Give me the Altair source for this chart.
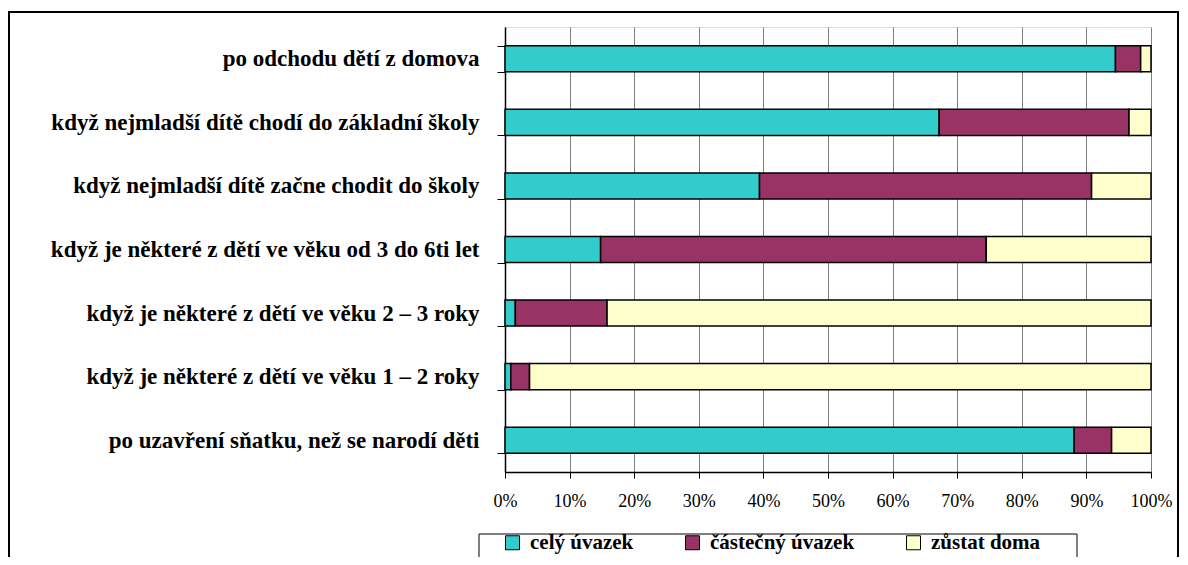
import altair as alt
import pandas as pd

categories = [
    "po odchodu dětí z domova",
    "když nejmladší dítě chodí do základní školy",
    "když nejmladší dítě začne chodit do školy",
    "když je některé z dětí ve věku od 3 do 6ti let",
    "když je některé z dětí ve věku 2 – 3 roky",
    "když je některé z dětí ve věku 1 – 2 roky",
    "po uzavření sňatku, než se narodí děti",
]
series = ["celý úvazek", "částečný úvazek", "zůstat doma"]
cely = [94.5, 67.2, 39.4, 14.8, 1.6, 0.9, 88.1]
castecny = [3.9, 29.4, 51.4, 59.7, 14.2, 2.9, 5.8]
zustat = [1.6, 3.4, 9.2, 25.5, 84.2, 96.2, 6.1]
colors = ["#33CCCC", "#993366", "#FFFFCC"]
x_ticks = [0, 0.1, 0.2, 0.3, 0.4, 0.5, 0.6, 0.7, 0.8, 0.9, 1.0]

rows = []
for si, vals in enumerate([cely, castecny, zustat]):
    for c, v in zip(categories, vals):
        rows.append({"kat": c, "serie": series[si], "idx": si, "hodnota": v})
df = pd.DataFrame(rows)

SERIF = "Liberation Serif"

bars = alt.Chart(df).mark_bar(stroke="black", strokeWidth=1.5).encode(
    x=alt.X(
        "hodnota:Q",
        stack="normalize",
        scale=alt.Scale(domain=[0, 1]),
        axis=alt.Axis(
            format="%",
            values=x_ticks,
            grid=True,
            gridColor="#808080",
            gridWidth=1,
            domainColor="black",
            domainWidth=1.5,
            tickColor="black",
            tickSize=6,
            labelFont=SERIF,
            labelFontSize=18,
            labelColor="black",
            labelPadding=14,
            labelFlush=False,
            labelOverlap=False,
            title=None,
        ),
    ),
    y=alt.Y(
        "kat:N",
        sort=categories,
        scale=alt.Scale(paddingInner=0.59, paddingOuter=0.295),
        axis=alt.Axis(
            tickBand="extent",
            tickSize=8,
            tickColor="black",
            domainColor="black",
            domainWidth=1.5,
            labelFont=SERIF,
            labelFontWeight="bold",
            labelFontSize=23,
            labelColor="black",
            labelPadding=18,
            labelLimit=700,
            grid=False,
            title=None,
        ),
    ),
    color=alt.Color(
        "serie:N",
        scale=alt.Scale(domain=series, range=colors),
        legend=alt.Legend(
            orient="none",
            legendX=-3,
            legendY=505,
            direction="horizontal",
            symbolType="square",
            symbolSize=196,
            symbolStrokeColor="black",
            symbolStrokeWidth=1,
            symbolOpacity=1,
            labelFont=SERIF,
            labelFontWeight="bold",
            labelFontSize=21,
            labelColor="black",
            labelOffset=7,
            columnPadding=48,
            padding=0,
            title=None,
        ),
    ),
    order=alt.Order("idx:Q"),
)

deco = alt.Data(values=[{}])
outer = alt.Chart(deco).mark_rect(fill=None, stroke="black", strokeWidth=2).encode(
    x=alt.value(-496), x2=alt.value(673), y=alt.value(-15), y2=alt.value(600)
)
legend_box = alt.Chart(deco).mark_rect(fill=None, stroke="black", strokeWidth=1).encode(
    x=alt.value(-26), x2=alt.value(572), y=alt.value(507), y2=alt.value(600)
)

chart = alt.layer(outer, legend_box, bars).properties(
    width=646,
    height=445,
    autosize=alt.AutoSizeParams(type="none"),
    padding={"left": 497, "top": 19, "right": 29, "bottom": 85},
).configure_view(stroke="#808080", strokeWidth=1).configure(background="white")

chart.save("out.html", embed_options={"renderer": "svg", "actions": False})
